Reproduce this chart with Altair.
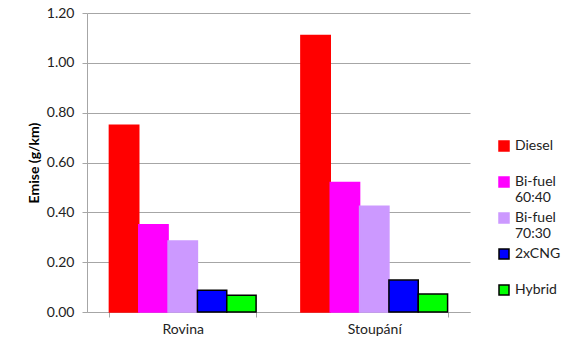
import altair as alt
import pandas as pd

# Driving regimes (x categories) and vehicle fuel variants (series)
regimes = ["Rovina", "Stoupání"]
fuels = ["Diesel", "Bi-fuel 60:40", "Bi-fuel 70:30", "2xCNG", "Hybrid"]

# Emissions in g/km per fuel variant
rovina = [0.75, 0.35, 0.285, 0.087, 0.067]
stoupani = [1.11, 0.52, 0.424, 0.128, 0.072]

fills = ["#FF0000", "#FF00FF", "#CC99FF", "#0000FF", "#00FF00"]
outlines = ["#FF0000", "#FF00FF", "#CC99FF", "#000000", "#000000"]

y_ticks = [0.0, 0.2, 0.4, 0.6, 0.8, 1.0, 1.2]

rows = []
for regime, vals in zip(regimes, [rovina, stoupani]):
    for fuel, v in zip(fuels, vals):
        rows.append({"Režim": regime, "Palivo": fuel, "Emise": v})
df = pd.DataFrame(rows)

FONT = "Lato"
GRID = "#A6A6A6"
TEXT = "#222222"

# Shared legend for fill and outline; labels wrap after the first word
legend = alt.Legend(
    title=None,
    orient="none",
    legendX=410,
    legendY=130,
    direction="vertical",
    symbolType="M-1,-1.8H1V0.2H-1Z",
    symbolSize=100,
    symbolStrokeWidth=1.5,
    labelFont=FONT,
    labelFontSize=14,
    labelColor=TEXT,
    labelBaseline="alphabetic",
    labelOffset=4,
    rowPadding=5,
    padding=0,
    labelExpr="indexof(datum.label, ' ') > 0 ? split(datum.label, ' ') : [datum.label, ' ']",
)

chart = (
    alt.Chart(df)
    .mark_bar(strokeWidth=1.5)
    .encode(
        x=alt.X(
            "Režim:N",
            sort=regimes,
            scale=alt.Scale(paddingInner=0.234, paddingOuter=0.117),
            axis=alt.Axis(
                title=None,
                labelAngle=0,
                tickBand="extent",
                domainColor=GRID,
                tickColor=GRID,
                tickSize=5,
                labelPadding=5,
                labelFont=FONT,
                labelFontSize=14,
                labelColor=TEXT,
                grid=False,
            ),
        ),
        xOffset=alt.XOffset(
            "Palivo:N", sort=fuels, scale=alt.Scale(paddingInner=0, paddingOuter=0)
        ),
        y=alt.Y(
            "Emise:Q",
            scale=alt.Scale(domain=[0, 1.2], nice=False),
            axis=alt.Axis(
                values=y_ticks,
                format=".2f",
                title="Emise (g/km)",
                titleFont=FONT,
                titleFontSize=14,
                titleFontWeight="bold",
                titleColor="#000000",
                titlePadding=5,
                labelFont=FONT,
                labelFontSize=14,
                labelColor=TEXT,
                labelPadding=8,
                domainColor=GRID,
                tickColor=GRID,
                tickSize=5,
                gridColor=GRID,
                gridWidth=1,
            ),
        ),
        color=alt.Color(
            "Palivo:N", sort=fuels, scale=alt.Scale(domain=fuels, range=fills), legend=legend
        ),
        stroke=alt.Stroke(
            "Palivo:N", sort=fuels, scale=alt.Scale(domain=fuels, range=outlines), legend=legend
        ),
    )
    .properties(
        width=383,
        height=299,
        autosize=alt.AutoSizeParams(type="none"),
        padding={"left": 87, "top": 13, "right": 93, "bottom": 29},
        background="white",
    )
    .configure_view(stroke=None)
)

chart.save("out.html", embed_options={"renderer": "svg", "actions": False})
